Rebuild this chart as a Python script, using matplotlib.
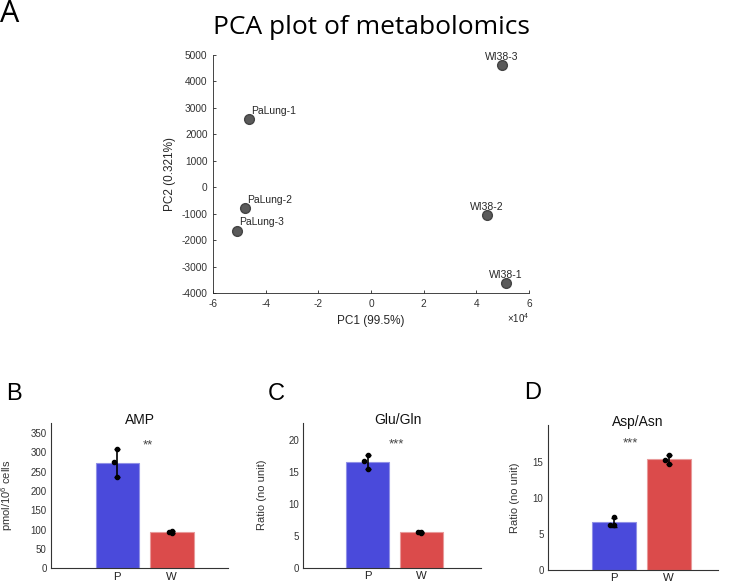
import matplotlib
matplotlib.use('Agg')
import matplotlib.pyplot as plt
import numpy as np
from matplotlib.ticker import FuncFormatter

plt.rcParams['font.family'] = ['Liberation Sans', 'DejaVu Sans']
plt.rcParams['axes.unicode_minus'] = False
plt.rcParams['mathtext.fontset'] = 'custom'
plt.rcParams['mathtext.rm'] = 'Liberation Sans'
plt.rcParams['mathtext.it'] = 'Liberation Sans'

# ---- panel A: PCA scores ----
sample_names = ['PaLung-1', 'PaLung-2', 'PaLung-3', 'WI38-3', 'WI38-2', 'WI38-1']
pc1 = [-4.64e4, -4.78e4, -5.08e4, 4.97e4, 4.40e4, 5.11e4]
pc2 = [2583, -790, -1634, 4610, -1042, -3610]

# ---- panels B-D: bar charts ----
groups = ['P', 'W']
bar_titles = ['AMP', 'Glu/Gln', 'Asp/Asn']
bar_ylabels = ['pmol/10$^6$ cells', 'Ratio (no unit)', 'Ratio (no unit)']
amp_p = [307, 275, 236]
amp_w = [97, 94, 92]
glu_p = [17.65, 16.8, 15.45]
glu_w = [5.45, 5.6, 5.55]
asp_p = [7.3, 6.3, 6.2]
asp_w = [15.97, 15.3, 14.7]
stars = ['**', '***', '***']
yticks_list = [np.arange(0, 351, 50), np.arange(0, 21, 5), np.arange(0, 16, 5)]

blue = '#4a4adb'
red = '#db4b4b'

fig = plt.figure(figsize=(7.35, 5.85), dpi=100)

# ---------------- A ----------------
ax = fig.add_axes([0.2898, 0.4986, 0.4299, 0.4074])
ax.plot(pc1, pc2, 'o', color='#5a5a5a', markeredgecolor='#444444', markersize=7)
for name, x, y in zip(sample_names, pc1, pc2):
    if name.startswith('Pa'):
        ax.annotate(name, (x, y), xytext=(1.5, 6), textcoords='offset points',
                    ha='left', va='center', fontsize=7.5, color='#262626')
    else:
        ax.annotate(name, (x, y), xytext=(0, 6), textcoords='offset points',
                    ha='center', va='center', fontsize=7.5, color='#262626')
ax.set_xlim(-6e4, 6e4)
ax.set_ylim(-4000, 5000)
ax.set_xticks(np.arange(-6e4, 6.1e4, 2e4))
ax.set_yticks(np.arange(-4000, 5001, 1000))
ax.xaxis.set_major_formatter(FuncFormatter(lambda v, p: '%d' % round(v / 1e4)))
for s in ['top', 'right']:
    ax.spines[s].set_visible(False)
for s in ['left', 'bottom']:
    ax.spines[s].set_color('#262626')
    ax.spines[s].set_linewidth(0.6)
ax.tick_params(direction='in', length=2.5, width=0.6, color='#262626',
               labelcolor='#333333', labelsize=7.3, pad=4)
ax.set_xlabel('PC1 (99.5%)', fontsize=8.5, color='#262626')
ax.set_ylabel('PC2 (0.321%)', fontsize=8.5, color='#262626')
ax.xaxis.set_label_coords(0.5, -0.09)
ax.yaxis.set_label_coords(-0.116, 0.5)
ax.text(1.0, -0.105, r'$\times10^{4}$', transform=ax.transAxes, ha='right',
        va='center', fontsize=7, color='#262626')

fig.text(371 / 735, 1 - 28 / 585, 'PCA plot of metabolomics', ha='center', va='center',
         fontsize=19, family=['Open Sans', 'DejaVu Sans'])
fig.text(10 / 735, 1 - 14 / 585, 'A', ha='center', va='center', fontsize=22,
         family=['Open Sans', 'DejaVu Sans'])

# ---------------- B, C, D ----------------
positions = [[0.0690, 0.0285, 0.2416, 0.2489],
             [0.4127, 0.0296, 0.2414, 0.2479],
             [0.7452, 0.0256, 0.2321, 0.2479]]
xlims = [(-0.222, 3.037), (-0.193, 3.104), (-0.2, 2.902)]
ylims = [(0, 376), (0, 22.8), (0, 20.1)]
title_x = [0.5, 0.535, 0.528]
star_pos = [(1.57, 318), (1.53, 19.3), (1.3, 17.5)]
ylabel_x = [-0.2, -0.205, -0.165]
letters = ['B', 'C', 'D']
letter_xy = [(13.5, 393.5), (276.7, 393.5), (532.5, 393)]
jitter = [-0.0, -0.06, 0.0]

data_sets = [(amp_p, amp_w), (glu_p, glu_w), (asp_p, asp_w)]
for i, (pvals, wvals) in enumerate(data_sets):
    ax = fig.add_axes(positions[i])
    xs = [1, 2]
    means = [np.mean(pvals), np.mean(wvals)]
    sds = [np.std(pvals, ddof=1), np.std(wvals, ddof=1)]
    ax.bar(xs, means, width=0.8, color=[blue, red],
           edgecolor=['#9090e6', '#e89a9a'], linewidth=0.8, zorder=2)
    ax.errorbar(xs, means, yerr=sds, fmt='none', ecolor='black', elinewidth=1.2,
                capsize=2, capthick=1, zorder=3)
    for x, vals in zip(xs, [pvals, wvals]):
        ax.plot([x + j for j in jitter], vals, 'o', color='black', markersize=3, zorder=4)
    ax.set_xlim(*xlims[i])
    ax.set_ylim(*ylims[i])
    ax.set_xticks(xs)
    ax.set_xticklabels(groups)
    ax.set_yticks(yticks_list[i])
    for s in ['top', 'right']:
        ax.spines[s].set_visible(False)
    for s in ['left', 'bottom']:
        ax.spines[s].set_color('#333333')
        ax.spines[s].set_linewidth(0.8)
    ax.tick_params(axis='y', length=0, labelsize=7, labelcolor='#333333', pad=3)
    ax.tick_params(axis='x', length=0, labelsize=8.2, labelcolor='#222222', pad=2.5)
    ax.set_ylabel(bar_ylabels[i], fontsize=8, color='#333333')
    ax.yaxis.set_label_coords(ylabel_x[i], 0.5)
    ax.text(title_x[i], 1.018, bar_titles[i], transform=ax.transAxes, ha='center',
            va='center', fontsize=10, color='#111111')
    ax.text(star_pos[i][0], star_pos[i][1], stars[i], ha='center', va='center',
            fontsize=9.5, color='#444444')
    fig.text(letter_xy[i][0] / 735, 1 - letter_xy[i][1] / 585, letters[i],
             ha='center', va='center', fontsize=17)

fig.savefig('out.png', dpi=100)
